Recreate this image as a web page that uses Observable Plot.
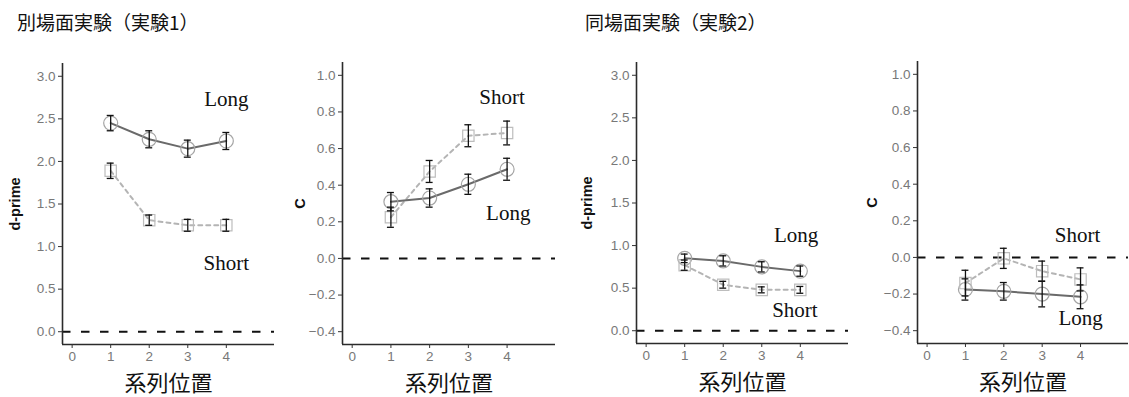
<!DOCTYPE html>
<html><head><meta charset="utf-8">
<script src="https://cdn.jsdelivr.net/npm/d3@7"></script>
<script src="https://cdn.jsdelivr.net/npm/@observablehq/plot@0.6"></script>
<style>
body{margin:0;background:#fff;width:1129px;height:397px;position:relative;overflow:hidden;font-family:"Noto Sans CJK JP",sans-serif}
.title{position:absolute;top:12px;font-size:19px;color:#111;line-height:1;white-space:nowrap}
.panel{position:absolute;top:50px}
.panel g[aria-label$="tick label"] text{font-size:13.5px !important;font-family:"Liberation Sans",Arial,sans-serif !important}
</style></head><body>
<div class="title" style="left:17px">別場面実験（実験1）</div>
<div class="title" style="left:585px">同場面実験（実験2）</div>
<div id="p1" class="panel" style="left:0px"></div>
<div id="p2" class="panel" style="left:290px"></div>
<div id="p3" class="panel" style="left:570px"></div>
<div id="p4" class="panel" style="left:860px"></div>
<script>
// ---- data ----
const positions = [1, 2, 3, 4];
const xTicks = [0, 1, 2, 3, 4];
const xDomain = [-0.25, 5.25];
const xLabel = "系列位置";

const dprimeTicks = [0, 0.5, 1.0, 1.5, 2.0, 2.5, 3.0];
const dprimeDomain = [-0.15, 3.15];
const cTicks = [-0.4, -0.2, 0, 0.2, 0.4, 0.6, 0.8, 1.0];
const cDomain = [-0.47, 1.07];

// Experiment 1 (別場面)
const exp1DprimeLong = [2.45, 2.26, 2.15, 2.24];
const exp1DprimeLongSE = [0.09, 0.10, 0.10, 0.10];
const exp1DprimeShort = [1.89, 1.31, 1.25, 1.25];
const exp1DprimeShortSE = [0.09, 0.06, 0.07, 0.07];
const exp1CLong = [0.31, 0.33, 0.405, 0.487];
const exp1CLongSE = [0.05, 0.05, 0.055, 0.06];
const exp1CShort = [0.225, 0.475, 0.67, 0.685];
const exp1CShortSE = [0.055, 0.06, 0.06, 0.065];

// Experiment 2 (同場面)
const exp2DprimeLong = [0.85, 0.82, 0.75, 0.70];
const exp2DprimeLongSE = [0.05, 0.06, 0.06, 0.06];
const exp2DprimeShort = [0.77, 0.54, 0.48, 0.48];
const exp2DprimeShortSE = [0.06, 0.04, 0.035, 0.04];
const exp2CLong = [-0.175, -0.185, -0.20, -0.215];
const exp2CLongSE = [0.058, 0.048, 0.07, 0.065];
const exp2CShort = [-0.14, -0.005, -0.075, -0.12];
const exp2CShortSE = [0.07, 0.055, 0.055, 0.063];

function rows(means, ses, group) {
  return positions.map((p, i) => ({x: p, y: means[i], lo: means[i] - ses[i], hi: means[i] + ses[i], group}));
}

function panel(el, cfg) {
  const longRows = rows(cfg.long, cfg.longSE, "Long");
  const shortRows = rows(cfg.short, cfg.shortSE, "Short");
  const all = shortRows.concat(longRows);
  const cap = 0.09;
  const chart = Plot.plot({
    width: cfg.width, height: 347,
    marginLeft: cfg.ml, marginRight: cfg.mr, marginTop: cfg.mt, marginBottom: cfg.mb,
    x: {domain: xDomain, axis: null},
    y: {domain: cfg.yDomain, axis: null},
    style: {background: "transparent", overflow: "visible", fontSize: "13px", fontFamily: "Liberation Sans, Arial, sans-serif"},
    marks: [
      Plot.ruleY([0], {stroke: "#111", strokeWidth: 2.1, strokeDasharray: "8.5,10.5"}),
      Plot.line(shortRows, {x: "x", y: "y", stroke: "#b4b4b4", strokeWidth: 2, strokeDasharray: "4,4"}),
      Plot.line(longRows, {x: "x", y: "y", stroke: "#6a6a6a", strokeWidth: 2}),
      Plot.dot(longRows, {x: "x", y: "y", r: 7, stroke: "#a5a5a5", strokeWidth: 1.2, fill: "none"}),
      Plot.dot(shortRows, {x: "x", y: "y", r: 6.4, symbol: "square", stroke: "#bdbdbd", strokeWidth: 1.2, fill: "none"}),
      Plot.ruleX(all, {x: "x", y1: "lo", y2: "hi", stroke: "#111", strokeWidth: 1.3}),
      Plot.ruleY(all, {y: "hi", x1: d => d.x - cap, x2: d => d.x + cap, stroke: "#111", strokeWidth: 1.3}),
      Plot.ruleY(all, {y: "lo", x1: d => d.x - cap, x2: d => d.x + cap, stroke: "#111", strokeWidth: 1.3}),
      Plot.ruleX([xDomain[0]], {stroke: "#2b2b2b", strokeWidth: 1.6}),
      Plot.ruleY([cfg.yDomain[0]], {stroke: "#2b2b2b", strokeWidth: 1.6}),
      Plot.axisY({ticks: cfg.yTicks, tickFormat: d3.format(".1f"), tickSize: 4, tickPadding: 3, fontSize: 13.5,
        stroke: "#333", fill: "#787878", label: null}),
      Plot.axisX({ticks: xTicks, tickFormat: d3.format("d"), tickSize: 4, tickPadding: 3, fontSize: 13.5,
        stroke: "#333", fill: "#787878", label: null}),
      Plot.text(cfg.notes, {x: "x", y: "y", text: "text", fontFamily: "Liberation Serif", fontSize: 21, fill: "#111"}),
      Plot.text([cfg.ylabel], {frameAnchor: "left", textAnchor: "middle", lineAnchor: "middle", rotate: -90, dx: cfg.ylDx,
        fontWeight: "bold", fontSize: 14.5, fontFamily: "Liberation Sans", fill: "#111"}),
      Plot.text([xLabel], {frameAnchor: "bottom", textAnchor: "middle", lineAnchor: "middle", dy: 39, fontSize: 22,
        fontFamily: "Noto Sans CJK JP", fill: "#111"})
    ]
  });
  document.getElementById(el).appendChild(chart);
}

panel("p1", {width: 290, ml: 62, mr: 16, mt: 13, mb: 53, yDomain: dprimeDomain, yTicks: dprimeTicks, ylabel: "d-prime", ylDx: -47,
  long: exp1DprimeLong, longSE: exp1DprimeLongSE, short: exp1DprimeShort, shortSE: exp1DprimeShortSE,
  notes: [{x: 4.0, y: 2.73, text: "Long"}, {x: 4.0, y: 0.80, text: "Short"}]});
panel("p2", {width: 280, ml: 52, mr: 15, mt: 12, mb: 53, yDomain: cDomain, yTicks: cTicks, ylabel: "C", ylDx: -42,
  long: exp1CLong, longSE: exp1CLongSE, short: exp1CShort, shortSE: exp1CShortSE,
  notes: [{x: 3.87, y: 0.88, text: "Short"}, {x: 4.03, y: 0.246, text: "Long"}]});
panel("p3", {width: 290, ml: 66, mr: 12, mt: 12, mb: 54, yDomain: dprimeDomain, yTicks: dprimeTicks, ylabel: "d-prime", ylDx: -49,
  long: exp2DprimeLong, longSE: exp2DprimeLongSE, short: exp2DprimeShort, shortSE: exp2DprimeShortSE,
  notes: [{x: 3.89, y: 1.125, text: "Long"}, {x: 3.86, y: 0.235, text: "Short"}]});
panel("p4", {width: 269, ml: 57, mr: 1, mt: 11, mb: 54, yDomain: cDomain, yTicks: cTicks, ylabel: "C", ylDx: -45,
  long: exp2CLong, longSE: exp2CLongSE, short: exp2CShort, shortSE: exp2CShortSE,
  notes: [{x: 3.92, y: 0.12, text: "Short"}, {x: 4.0, y: -0.33, text: "Long"}]});
</script>
</body></html>
